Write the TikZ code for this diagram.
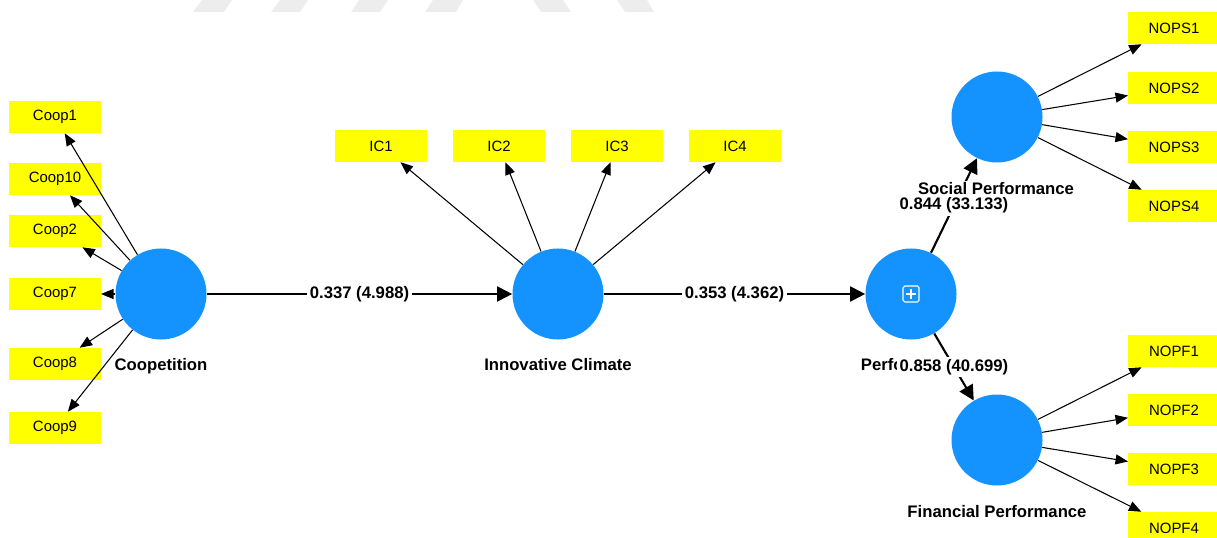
\documentclass[tikz,border=0pt]{standalone}
\usepackage{fontspec}
\setmainfont{Liberation Sans}
\usetikzlibrary{arrows.meta}
\definecolor{latblue}{RGB}{20,147,255}
\definecolor{indyel}{RGB}{255,255,0}
\tikzset{
  lat/.style={circle, fill=latblue, draw=none, minimum size=18.2mm, inner sep=0pt},
  ind/.style={rectangle, fill=indyel, minimum width=18.4mm, minimum height=6.5mm,
    inner sep=0pt, outer sep=0pt, font=\fontsize{8.5}{10}\selectfont},
  latname/.style={fill=white, inner sep=1pt, font=\bfseries\fontsize{9.5}{11}\selectfont},
  coef/.style={fill=white, inner sep=1.5pt, font=\bfseries\fontsize{9.5}{11}\selectfont},
  load/.style={line width=0.6pt, -{Triangle[length=2.5mm,width=2mm]}},
  pth/.style={line width=1.2pt, -{Triangle[length=3mm,width=3mm]}},
  wmark/.style={fill=black!7, draw=none},
}

\begin{document}
\begin{tikzpicture}[x=0.2mm,y=-0.2mm]
\useasboundingbox (0,0) rectangle (1217,538);
% faint marks along the top
\fill[wmark] (193,12) -- (202,0) -- (232,0) -- (224,12) -- cycle;
\fill[wmark] (271,12) -- (280,0) -- (308,0) -- (300,12) -- cycle;
\fill[wmark] (351,12) -- (359,0) -- (388,0) -- (380,12) -- cycle;
\fill[wmark] (425,12) -- (433,0) -- (463,0) -- (456,12) -- cycle;
\fill[wmark] (541,12) -- (533,0) -- (563,0) -- (571,12) -- cycle;
\fill[wmark] (625,12) -- (617,0) -- (647,0) -- (654,12) -- cycle;

% constructs
\node[lat] (coop) at (161,294) {};
\node[lat] (ic) at (558,294) {};
\node[lat] (perf) at (911,294) {};
\node[lat] (sp) at (997,117) {};
\node[lat] (fp) at (997,440) {};
\draw[white, line width=0.6pt, rounded corners=1pt] (903,286) rectangle (919,302);
\draw[white, line width=0.6pt] (906,294) -- (916,294) (911,289) -- (911,299);

% indicators
\foreach \n/\y in {1/117,10/179,2/231,7/294,8/364,9/428}
  \node[ind] (coop\n) at (55,\y) {Coop\n};
\foreach \n/\x in {1/381,2/499,3/617,4/735}
  \node[ind] (ic\n) at (\x,146) {IC\n};
\foreach \n/\y in {1/28,2/88,3/147,4/206}
  \node[ind] (nops\n) at (1174,\y) {NOPS\n};
\foreach \n/\y in {1/351,2/410,3/469,4/528}
  \node[ind] (nopf\n) at (1174,\y) {NOPF\n};

% outer loadings
\foreach \n in {1,10,2,7,8,9}
  \draw[load] (coop) -- (coop\n);
\foreach \n in {1,2,3,4}
  \draw[load] (ic) -- (ic\n);
\foreach \n in {1,2,3,4}
  \draw[load] (sp) -- (nops\n);
\foreach \n in {1,2,3,4}
  \draw[load] (fp) -- (nopf\n);

% inner model
\node[latname] (perfname) at (912,365) {Performance};
\draw[pth] (coop) -- node[coef] {0.337 (4.988)} (ic);
\draw[pth] (ic) -- node[coef] {0.353 (4.362)} (perf);
\draw[pth] (perf) -- node[coef] {0.844 (33.133)} (sp);
\draw[pth] (perf) -- node[coef] {0.858 (40.699)} (fp);

% construct names
\node[latname] (coopname) at (161,366) {Coopetition};
\node[latname] (icname) at (558,365) {Innovative Climate};
\node[latname] (spname) at (996,189) {Social Performance};
\node[latname] (fpname) at (997,512) {Financial Performance};
\end{tikzpicture}
\end{document}
